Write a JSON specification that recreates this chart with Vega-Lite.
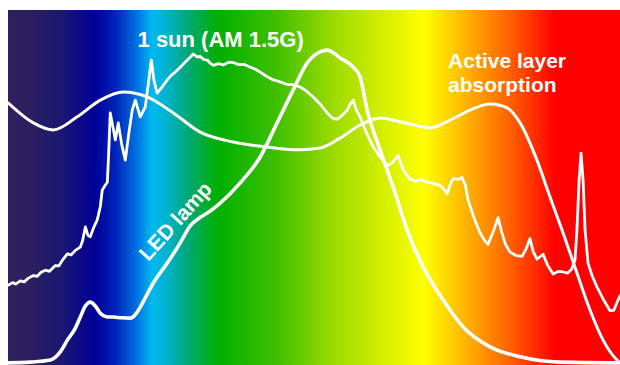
{
  "$schema": "https://vega.github.io/schema/vega-lite/v6.json",
  "width": 612,
  "height": 355,
  "padding": {"left": 8, "top": 10, "right": 0, "bottom": 0},
  "autosize": {"type": "none"},
  "background": "white",
  "config": {"view": {"stroke": null}},
  "datasets": {
    "sun": [
      {"nm":380.2,"v":22.5},{"nm":383,"v":23.2},{"nm":385,"v":22.8},{"nm":388,"v":23.7},{"nm":390.5,"v":23.4},{"nm":393,"v":24.4},{"nm":396.5,"v":25.2},{"nm":399,"v":25},{"nm":401.5,"v":26.1},{"nm":404.3,"v":26.7},{"nm":407,"v":26.4},{"nm":410.8,"v":28},{"nm":413,"v":27.9},{"nm":415.5,"v":29.6},{"nm":418.6,"v":31.3},{"nm":421,"v":31},{"nm":423.8,"v":32.3},{"nm":427,"v":33.2},{"nm":428.5,"v":35},{"nm":430.3,"v":38.9},{"nm":432,"v":36.5},{"nm":433.5,"v":36.1},{"nm":436,"v":39},{"nm":438,"v":40.8},{"nm":440,"v":44.5},{"nm":441.3,"v":49.3},{"nm":443,"v":50.5},{"nm":444.6,"v":51.5},{"nm":445.5,"v":60},{"nm":446.5,"v":71},{"nm":448.5,"v":66.5},{"nm":449.8,"v":63.4},{"nm":451.7,"v":68.2},{"nm":454,"v":62},{"nm":456.3,"v":57.7},{"nm":458.5,"v":65},{"nm":460.8,"v":71.8},{"nm":462.8,"v":74.6},{"nm":466,"v":69.9},{"nm":469.3,"v":72.7},{"nm":471.5,"v":80},{"nm":473.2,"v":85.9},{"nm":475,"v":80},{"nm":477,"v":76.6},{"nm":480,"v":78.2},{"nm":483.6,"v":80.3},{"nm":486,"v":81.5},{"nm":489,"v":82.6},{"nm":492,"v":83.9},{"nm":495,"v":85.2},{"nm":498,"v":86.5},{"nm":500.5,"v":87.6},{"nm":503,"v":86.8},{"nm":505,"v":86.9},{"nm":507.5,"v":86},{"nm":509.6,"v":85.9},{"nm":511.5,"v":85},{"nm":513.5,"v":84.4},{"nm":517,"v":84.9},{"nm":520,"v":84.5},{"nm":523.5,"v":85.3},{"nm":526.5,"v":85.2},{"nm":530,"v":84.6},{"nm":533.5,"v":84.7},{"nm":537.5,"v":83.9},{"nm":541,"v":83.3},{"nm":545,"v":82.2},{"nm":548.6,"v":81.2},{"nm":552,"v":80.4},{"nm":556,"v":79.9},{"nm":561.6,"v":79},{"nm":565,"v":79},{"nm":570,"v":78.3},{"nm":574,"v":77.2},{"nm":578.5,"v":75.5},{"nm":583,"v":73.5},{"nm":587.6,"v":71},{"nm":591,"v":69.6},{"nm":594,"v":69.2},{"nm":597.5,"v":70.4},{"nm":600.6,"v":71.8},{"nm":602.5,"v":73.4},{"nm":604.5,"v":74.6},{"nm":606.5,"v":71.8},{"nm":609,"v":69.9},{"nm":613,"v":65.5},{"nm":617.5,"v":61.4},{"nm":622,"v":58.6},{"nm":626.6,"v":56.2},{"nm":630,"v":57},{"nm":633.7,"v":59},{"nm":635.5,"v":56.8},{"nm":637,"v":55},{"nm":641.5,"v":52.3},{"nm":645,"v":51.8},{"nm":648.5,"v":52.2},{"nm":652.6,"v":51.5},{"nm":656.5,"v":51.1},{"nm":661,"v":50.6},{"nm":663.5,"v":49.5},{"nm":665.6,"v":48.2},{"nm":667.5,"v":50.8},{"nm":669.5,"v":52.5},{"nm":672.5,"v":52.3},{"nm":675.3,"v":52.8},{"nm":677.5,"v":50.5},{"nm":679.2,"v":46.5},{"nm":683,"v":41.5},{"nm":687,"v":37.2},{"nm":690,"v":35},{"nm":692.2,"v":34},{"nm":695.5,"v":37.5},{"nm":698.7,"v":41.5},{"nm":701,"v":37.5},{"nm":703.5,"v":34},{"nm":706.5,"v":31.8},{"nm":710,"v":30.9},{"nm":714.3,"v":30.6},{"nm":717,"v":32.8},{"nm":719.5,"v":35.6},{"nm":721.5,"v":32},{"nm":724,"v":29.8},{"nm":726,"v":30.5},{"nm":728,"v":31.2},{"nm":731,"v":28},{"nm":734.5,"v":25.6},{"nm":738,"v":26.4},{"nm":741,"v":26.2},{"nm":744,"v":25.9},{"nm":746.5,"v":27},{"nm":748.75,"v":29.6},{"nm":750,"v":38},{"nm":751.4,"v":52},{"nm":752.65,"v":59.7},{"nm":754,"v":52},{"nm":755.3,"v":38},{"nm":757.2,"v":28.7},{"nm":760,"v":25},{"nm":763,"v":22},{"nm":767,"v":18.6},{"nm":771.5,"v":15.3},{"nm":774,"v":15.4},{"nm":776.7,"v":18.3},{"nm":778,"v":19.5}
    ],
    "led": [
      {"nm":380.2,"v":0.6},{"nm":394.5,"v":0.8},{"nm":407.5,"v":1.4},{"nm":414,"v":3.7},{"nm":418.6,"v":7},{"nm":423.8,"v":10.4},{"nm":427,"v":13.5},{"nm":430.3,"v":16.6},{"nm":433.5,"v":17.7},{"nm":436.8,"v":16.6},{"nm":440,"v":14.6},{"nm":444,"v":13.6},{"nm":448.5,"v":13.5},{"nm":454,"v":13.3},{"nm":459.5,"v":13.2},{"nm":463,"v":14.3},{"nm":466,"v":16.3},{"nm":470,"v":19.5},{"nm":474.5,"v":23.1},{"nm":483.6,"v":28.7},{"nm":492,"v":34.4},{"nm":498.5,"v":39.2},{"nm":505,"v":41.6},{"nm":509.6,"v":42.8},{"nm":518,"v":45.6},{"nm":531,"v":51.3},{"nm":544,"v":58.6},{"nm":555,"v":68.2},{"nm":565.5,"v":77.5},{"nm":574.6,"v":85.1},{"nm":583,"v":88.2},{"nm":587.6,"v":88.7},{"nm":596,"v":86.5},{"nm":604.5,"v":83.9},{"nm":609,"v":81.1},{"nm":613.6,"v":71.8},{"nm":622,"v":60.6},{"nm":630.5,"v":50.1},{"nm":639.6,"v":38},{"nm":650,"v":27.6},{"nm":663,"v":18.3},{"nm":676,"v":10.7},{"nm":693.5,"v":5.1},{"nm":713,"v":2.3},{"nm":739,"v":0.8},{"nm":771.5,"v":0.6},{"nm":778,"v":0.6}
    ],
    "abs": [
      {"nm":380.2,"v":73.8},{"nm":396.5,"v":68.2},{"nm":409.5,"v":66.2},{"nm":425,"v":69.9},{"nm":440,"v":74.6},{"nm":455,"v":76.9},{"nm":470.5,"v":75.5},{"nm":487.5,"v":71},{"nm":505,"v":65.6},{"nm":526.5,"v":62.8},{"nm":548.6,"v":61.4},{"nm":570,"v":60.6},{"nm":583,"v":61.1},{"nm":596,"v":63.9},{"nm":609,"v":67.6},{"nm":622,"v":69.6},{"nm":635,"v":68.5},{"nm":641.5,"v":67.9},{"nm":654.5,"v":66.8},{"nm":667.5,"v":69},{"nm":680.5,"v":71.8},{"nm":693.5,"v":73.5},{"nm":704.6,"v":72.4},{"nm":713,"v":68.2},{"nm":724,"v":57.7},{"nm":732.5,"v":47.3},{"nm":741,"v":37.2},{"nm":750,"v":25.9},{"nm":758.5,"v":15.5},{"nm":767,"v":7},{"nm":776,"v":1.4},{"nm":778,"v":0.6}
    ]
  },
  "layer": [
    {
      "data": {"values": [{"band": "visible"}]},
      "mark": {
        "type": "rect",
        "fill": {
          "gradient": "linear",
          "x1": 0, "y1": 0, "x2": 1, "y2": 0,
          "stops": [
            {"offset": 0, "color": "#2e2060"},
            {"offset": 0.03, "color": "#2d1f5e"},
            {"offset": 0.085, "color": "#1c1870"},
            {"offset": 0.142, "color": "#000096"},
            {"offset": 0.175, "color": "#0022b8"},
            {"offset": 0.21, "color": "#0070e0"},
            {"offset": 0.235, "color": "#00b8f0"},
            {"offset": 0.257, "color": "#00b4d0"},
            {"offset": 0.29, "color": "#00a880"},
            {"offset": 0.343, "color": "#00b000"},
            {"offset": 0.44, "color": "#40c000"},
            {"offset": 0.536, "color": "#a0dc00"},
            {"offset": 0.632, "color": "#e0f400"},
            {"offset": 0.68, "color": "#ffff00"},
            {"offset": 0.73, "color": "#ffc800"},
            {"offset": 0.794, "color": "#ff8000"},
            {"offset": 0.846, "color": "#ff4000"},
            {"offset": 0.894, "color": "#ff0000"},
            {"offset": 1, "color": "#ff0000"}
          ]
        }
      },
      "encoding": {
        "x": {"datum": 380, "type": "quantitative", "scale": {"domain": [380, 778], "nice": false, "zero": false}, "axis": null},
        "x2": {"datum": 778},
        "y": {"datum": 0, "type": "quantitative", "scale": {"domain": [0, 100], "nice": false, "zero": false}, "axis": null},
        "y2": {"datum": 100}
      }
    },
    {
      "data": {"name": "abs"},
      "mark": {"type": "line", "color": "white", "strokeWidth": 3, "interpolate": "monotone", "strokeJoin": "round", "strokeCap": "round", "clip": true},
      "encoding": {
        "x": {"field": "nm", "type": "quantitative", "scale": {"domain": [380, 778], "nice": false, "zero": false}, "axis": null},
        "y": {"field": "v", "type": "quantitative", "scale": {"domain": [0, 100], "nice": false, "zero": false}, "axis": null}
      }
    },
    {
      "data": {"name": "led"},
      "mark": {"type": "line", "color": "white", "strokeWidth": 3.6, "interpolate": "monotone", "strokeJoin": "round", "strokeCap": "round", "clip": true},
      "encoding": {
        "x": {"field": "nm", "type": "quantitative", "scale": {"domain": [380, 778], "nice": false, "zero": false}, "axis": null},
        "y": {"field": "v", "type": "quantitative", "scale": {"domain": [0, 100], "nice": false, "zero": false}, "axis": null}
      }
    },
    {
      "data": {"name": "sun"},
      "mark": {"type": "line", "color": "white", "strokeWidth": 2.8, "strokeJoin": "round", "strokeCap": "round", "clip": true},
      "encoding": {
        "x": {"field": "nm", "type": "quantitative", "scale": {"domain": [380, 778], "nice": false, "zero": false}, "axis": null},
        "y": {"field": "v", "type": "quantitative", "scale": {"domain": [0, 100], "nice": false, "zero": false}, "axis": null}
      }
    },
    {
      "data": {"values": [{"nm": 518.3, "v": 89.6, "label": "1 sun (AM 1.5G)"}]},
      "mark": {"type": "text", "color": "white", "font": "Liberation Sans", "fontWeight": "bold", "fontSize": 22, "align": "center", "baseline": "alphabetic"},
      "encoding": {
        "x": {"field": "nm", "type": "quantitative"},
        "y": {"field": "v", "type": "quantitative"},
        "text": {"field": "label"}
      }
    },
    {
      "data": {"values": [{"nm": 666.2, "v": 83.7, "label": "Active layer"}, {"nm": 666.2, "v": 76.9, "label": "absorption"}]},
      "mark": {"type": "text", "color": "white", "font": "Liberation Sans", "fontWeight": "bold", "fontSize": 21, "align": "left", "baseline": "alphabetic"},
      "encoding": {
        "x": {"field": "nm", "type": "quantitative"},
        "y": {"field": "v", "type": "quantitative"},
        "text": {"field": "label"}
      }
    },
    {
      "data": {"values": [{"nm": 489.4, "v": 40.3, "label": "LED lamp"}]},
      "mark": {"type": "text", "color": "white", "font": "Liberation Sans", "fontWeight": "bold", "fontSize": 21, "align": "center", "baseline": "middle", "angle": -48},
      "encoding": {
        "x": {"field": "nm", "type": "quantitative"},
        "y": {"field": "v", "type": "quantitative"},
        "text": {"field": "label"}
      }
    }
  ]
}
